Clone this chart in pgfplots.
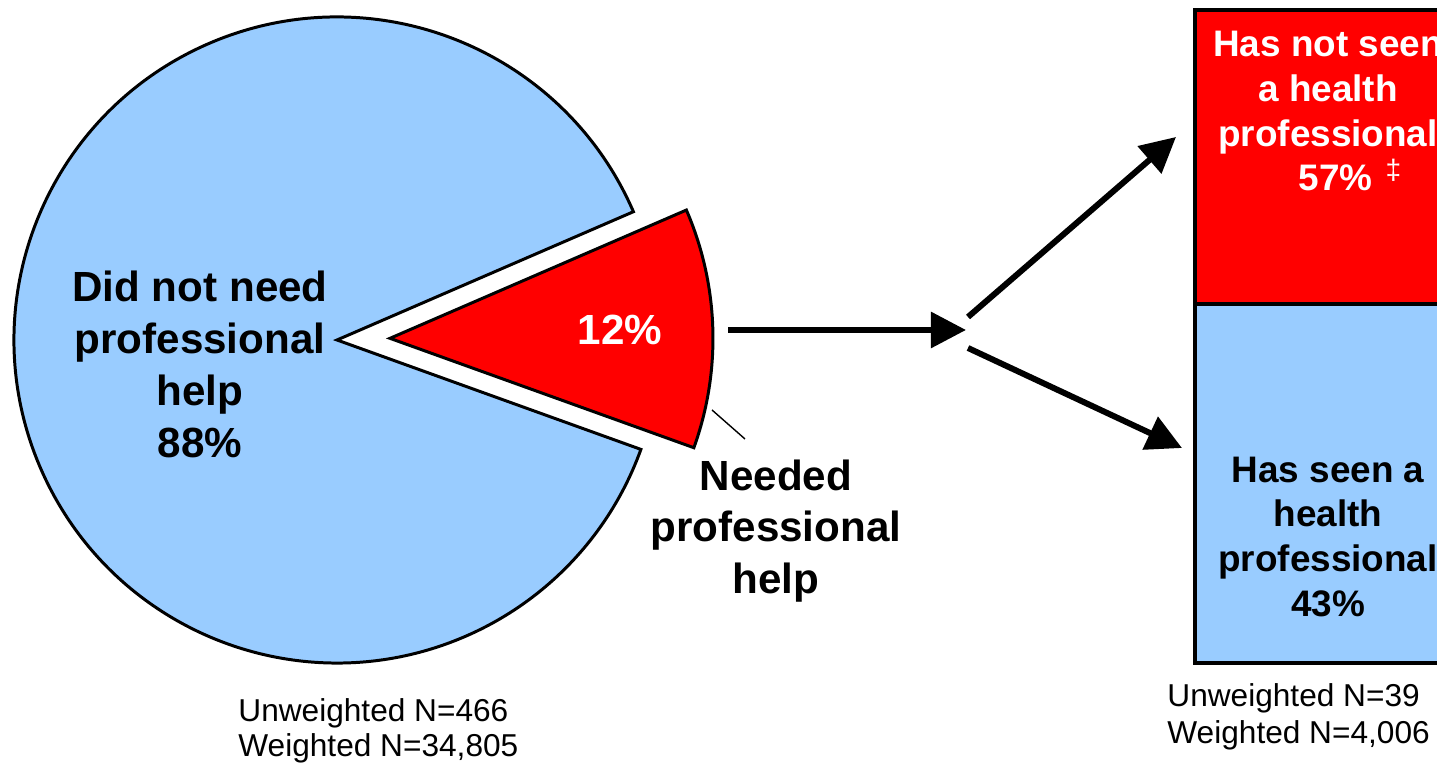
\documentclass[border=0pt]{standalone}
\usepackage{pgfplots}
\pgfplotsset{compat=1.18}
\usepackage{pgfplotstable}
\usetikzlibrary{arrows.meta}
\usepackage{fontspec}
\setmainfont{Liberation Sans}
\definecolor{pieblue}{RGB}{153,204,255}
\definecolor{piered}{RGB}{255,0,0}
% pie shares (percent)
\def\pctNotNeed{88}
\def\pctNeed{12}
\pgfmathsetmacro{\redStart}{-19.8}
\pgfmathsetmacro{\redEnd}{\redStart+3.6*\pctNeed}
\pgfmathsetmacro{\blueEnd}{\redEnd+3.6*\pctNotNeed}
\pgfmathsetmacro{\redMid}{(\redStart+\redEnd)/2}
\pgfplotstableread{
x seen notseen
0.5 55 45
}\bartable
\begin{document}
\begin{tikzpicture}
\begin{axis}[at={(0,0)},anchor=south west,scale only axis,width=14.37cm,height=7.65cm,
  xmin=0,xmax=1437,ymin=0,ymax=765,hide axis,clip=false]
% blue main slice
\fill[pieblue,draw=black,line width=0.85pt] (axis cs:337,425) -- ++(\redEnd:3.23cm)
   arc[start angle=\redEnd,end angle=\blueEnd,radius=3.23cm] -- cycle;
% exploded red slice
\fill[piered,draw=black,line width=0.85pt] (axis cs:337,425) ++(\redMid:0.53cm) coordinate (rc)
   -- ++(\redStart:3.23cm) arc[start angle=\redStart,end angle=\redEnd,radius=3.23cm] -- cycle;
\draw[black,line width=0.4pt] (axis cs:712,355) -- (axis cs:745,326);
\node[font=\bfseries\fontsize{12}{14.8}\selectfont,align=center] at (axis cs:200,401)
  {Did not need\\professional\\help\\88\%};
\node[font=\bfseries\fontsize{12}{14.8}\selectfont,text=white] at (axis cs:620,435) {12\%};
\node[font=\bfseries\fontsize{12}{14.6}\selectfont,align=center] at (axis cs:776,234)
  {Needed\\professional\\help};
% arrows
\draw[line width=1.7pt,-{Triangle[length=10pt,width=10pt]}] (axis cs:728,435) -- (axis cs:966,435);
\draw[line width=1.7pt,-{Triangle[length=10pt,width=10pt]}] (axis cs:968,448) -- (axis cs:1176,628);
\draw[line width=1.7pt,-{Triangle[length=10pt,width=10pt]}] (axis cs:968,417) -- (axis cs:1182,317);
\node[font=\fontsize{9}{10}\selectfont,align=left,anchor=west] at (axis cs:226,34)
  {Unweighted N=466\\Weighted N=34,805};
\node[font=\fontsize{9}{10.6}\selectfont,align=left,anchor=west] at (axis cs:1155,48)
  {Unweighted N=39\\Weighted N=4,006};
\end{axis}
\begin{axis}[at={(11.95cm,1.02cm)},anchor=south west,scale only axis,width=3cm,height=6.53cm,
  xmin=0,xmax=1,ymin=0,ymax=100,hide axis,clip=false,ybar stacked,bar width=3cm]
\addplot[fill=pieblue,draw=black,line width=1pt] table[x=x,y=seen]{\bartable};
\addplot[fill=piered,draw=black,line width=1pt] table[x=x,y=notseen]{\bartable};
\end{axis}
\node[font=\bfseries\fontsize{10.5}{12.8}\selectfont,align=center,text=white] at (13.28cm,6.54cm)
  {Has not seen\\a health\\professional\\\hspace*{1.2em}57\%\hspace{0.35em}\raisebox{0.3em}{\fontsize{8}{8}\selectfont\mdseries‡}};
\node[font=\bfseries\fontsize{10.5}{12.8}\selectfont,align=center] at (13.28cm,2.28cm)
  {Has seen a\\health\\professional\\43\%};
\pgfresetboundingbox
\useasboundingbox (0,0) rectangle (14.37cm,7.65cm);
\end{tikzpicture}
\end{document}
